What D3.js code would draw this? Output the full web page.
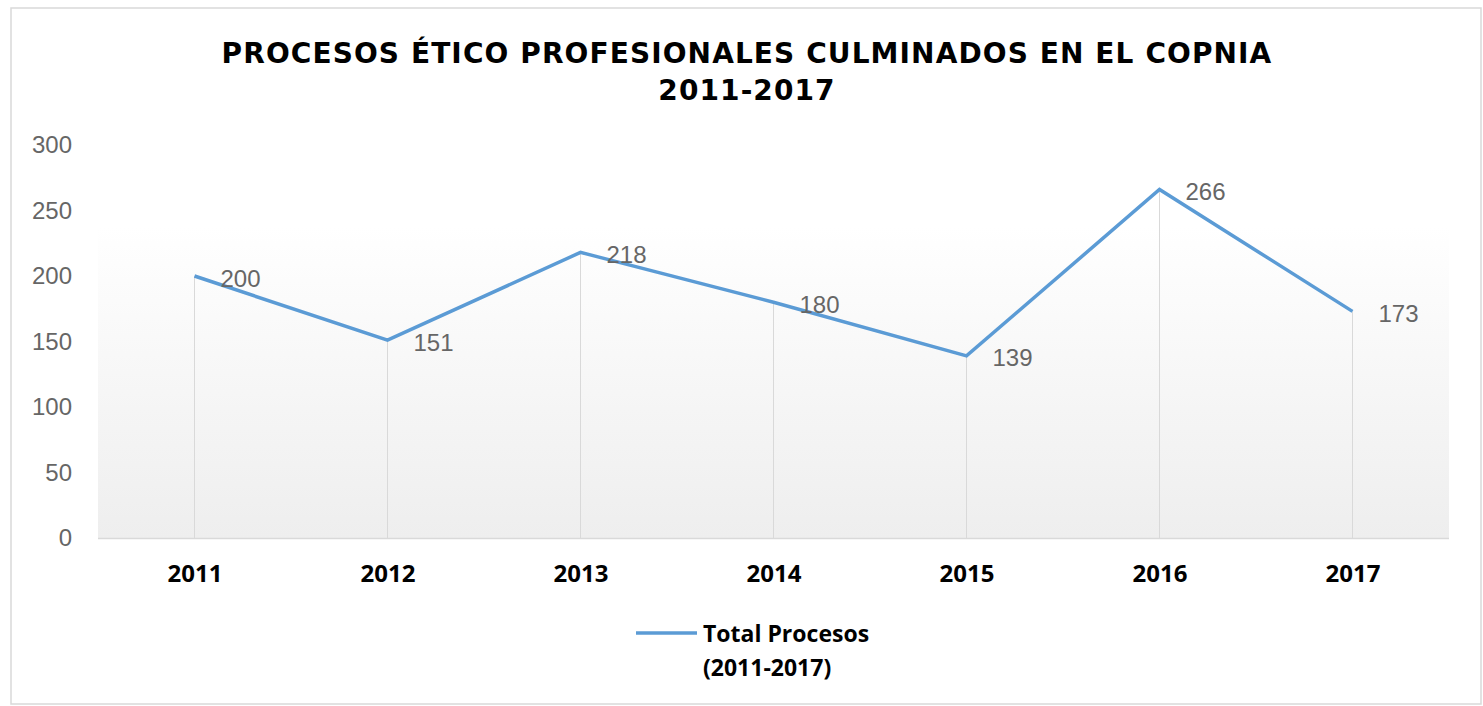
<!DOCTYPE html>
<html>
<head>
<meta charset="utf-8">
<script src="https://cdn.jsdelivr.net/npm/d3@7/dist/d3.min.js"></script>
<style>
  html, body { margin: 0; padding: 0; background: #ffffff; }
  svg { display: block; }
</style>
</head>
<body>
<svg id="chart" width="1483" height="706"></svg>
<script>
const categories = ["2011", "2012", "2013", "2014", "2015", "2016", "2017"];
const values = [200, 151, 218, 180, 139, 266, 173];
const yTicks = [0, 50, 100, 150, 200, 250, 300];
const titleLines = ["PROCESOS ÉTICO PROFESIONALES CULMINADOS EN EL COPNIA", "2011-2017"];
const legendLines = ["Total Procesos", "(2011-2017)"];

(function () {
const svg = d3.select("#chart");
const pLeft = 98, pRight = 1449, pTop = 145, pBottom = 538;

// outer border
svg.append("rect")
  .attr("x", 11).attr("y", 8).attr("width", 1470).attr("height", 696)
  .attr("fill", "#fff").attr("stroke", "#d9d9d9").attr("stroke-width", 1.5);

const x = d3.scalePoint().domain(categories).range([pLeft, pRight]).padding(0.5);
const y = d3.scaleLinear().domain([0, 300]).range([pBottom, pTop]);

// gradient background
const defs = svg.append("defs");
const grad = defs.append("linearGradient").attr("id", "bg").attr("x1", 0).attr("y1", 0).attr("x2", 0).attr("y2", 1);
grad.append("stop").attr("offset", "0%").attr("stop-color", "#ffffff");
grad.append("stop").attr("offset", "100%").attr("stop-color", "#eeeeee");
svg.append("rect")
  .attr("x", pLeft).attr("y", 226).attr("width", pRight - pLeft).attr("height", pBottom - 226)
  .attr("fill", "url(#bg)");

// title
svg.append("g").selectAll("text").data(titleLines).join("text")
  .attr("x", 747).attr("y", (d, i) => 63 + i * 37)
  .attr("text-anchor", "middle")
  .attr("font-family", "DejaVu Sans")
  .attr("font-weight", "bold")
  .attr("font-size", 28)
  .attr("letter-spacing", 1.1)
  .attr("fill", "#000")
  .text(d => d);

// y axis (labels only)
const yAxis = d3.axisLeft(y).tickValues(yTicks).tickSize(0).tickPadding(0);
const yg = svg.append("g").attr("transform", "translate(72,0)").call(yAxis);
yg.select(".domain").remove();
yg.selectAll("text")
  .attr("font-family", "Liberation Sans")
  .attr("font-size", 24)
  .attr("fill", "#666666");

// drop lines
svg.append("g").selectAll("line").data(values).join("line")
  .attr("x1", (d, i) => x(categories[i])).attr("x2", (d, i) => x(categories[i]))
  .attr("y1", d => y(d)).attr("y2", pBottom)
  .attr("stroke", "#d9d9d9").attr("stroke-width", 1);

// x axis
const xAxis = d3.axisBottom(x).tickSize(0).tickPadding(0);
const xg = svg.append("g").attr("transform", `translate(0,${pBottom})`).call(xAxis);
xg.select(".domain").attr("d", `M${pLeft},0.5H${pRight}`).attr("stroke", "#d9d9d9").attr("stroke-width", 1.5);
xg.selectAll("text")
  .attr("dy", null)
  .attr("y", 44)
  .attr("font-family", "Open Sans")
  .attr("font-weight", "bold")
  .attr("font-size", 24)
  .attr("fill", "#000");

// line
const line = d3.line().x((d, i) => x(categories[i])).y(d => y(d));
svg.append("path").datum(values)
  .attr("d", line)
  .attr("fill", "none")
  .attr("stroke", "#5b9bd5")
  .attr("stroke-width", 3.5)
  .attr("stroke-linejoin", "miter");

// data labels
svg.append("g").selectAll("text").data(values).join("text")
  .attr("x", (d, i) => x(categories[i]) + 26)
  .attr("y", d => y(d) + 10.5)
  .attr("font-family", "Liberation Sans")
  .attr("font-size", 24)
  .attr("fill", "#666666")
  .text(d => d);

// legend
svg.append("line")
  .attr("x1", 636).attr("x2", 697).attr("y1", 633).attr("y2", 633)
  .attr("stroke", "#5b9bd5").attr("stroke-width", 3.5);
svg.append("g").selectAll("text").data(legendLines).join("text")
  .attr("x", 703).attr("y", (d, i) => 642 + i * 34)
  .attr("font-family", "Open Sans")
  .attr("font-weight", "bold")
  .attr("font-size", 23)
  .attr("fill", "#000")
  .text(d => d);
})();
</script>
</body>
</html>
